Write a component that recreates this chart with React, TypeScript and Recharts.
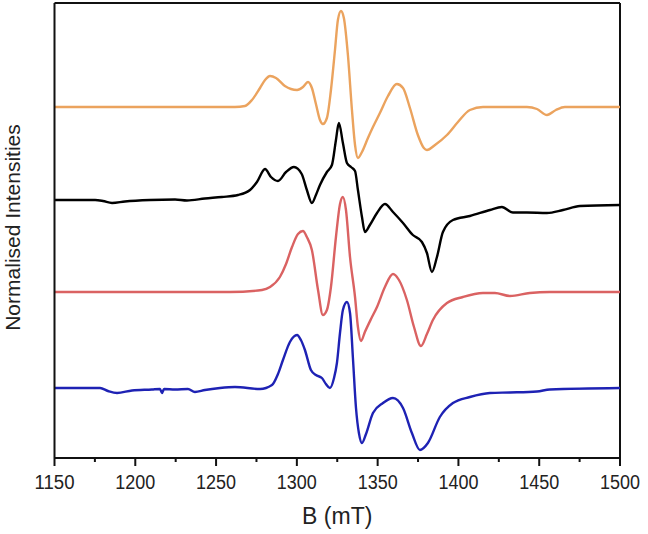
import React from "react";
import { LineChart, Line, XAxis, YAxis, ReferenceLine } from "recharts";

// Magnetic field (mT) and intensity (relative to each trace's own baseline)
const orangeB = [1150, 1261.7, 1267.9, 1272.2, 1277.2, 1280.3, 1283.4, 1287.1, 1292.6, 1300.1, 1303.8, 1306.9, 1309.3, 1311.8, 1314.3, 1316.1, 1318.6, 1321.1, 1323.6, 1325.4, 1327.3, 1329.1, 1331.6, 1334.1, 1336.0, 1337.8, 1340.3, 1344.0, 1347.1, 1351.4, 1356.4, 1361.9, 1365.7, 1370.0, 1374.9, 1378.6, 1380.5, 1385.5, 1392.9, 1399.7, 1407.1, 1415.2, 1442.4, 1448.6, 1454.8, 1460.3, 1465.9, 1500];
const orangeI = [0, 0, 1, 7, 19, 27, 31, 29, 21, 17, 20, 25, 19, 3, -13, -17, -11, 17, 57, 87, 96, 89, 52, -3, -38, -51, -45, -31, -20, -6, 11, 23, 19, -1, -28, -41, -43, -38, -28, -15, -3, 0, 0, -2, -8, -3, 0, 0];

const blackB = [1150, 1175.1, 1180, 1185.6, 1193.6, 1209.1, 1224.6, 1232.0, 1243.1, 1253.6, 1263.6, 1271.0, 1275.3, 1280.3, 1284.0, 1288.3, 1293.3, 1298.2, 1303.0, 1306.2, 1309.3, 1311.8, 1314.3, 1318.6, 1321.7, 1324.2, 1326.0, 1328.5, 1331.0, 1333.5, 1336.0, 1337.8, 1340.3, 1342.1, 1345.2, 1349.6, 1354.5, 1359.5, 1365.7, 1371.8, 1377.4, 1380.5, 1383.6, 1386.7, 1390.4, 1396.6, 1407.1, 1419.5, 1426.9, 1433.7, 1442.4, 1454.8, 1464.7, 1475.2, 1500];
const blackI = [0, 0, -1, -3, -1.5, 0, 0.5, -0.5, 1.5, 3, 5, 10, 18, 31, 23, 19, 28, 33, 26, 10, -3, 5, 15, 28, 35, 60, 77, 57, 37, 33, 29, 10, -17, -32, -25, -13, -4, -12, -23, -35, -42, -53, -72, -57, -32, -20, -16, -10, -7, -12.5, -12.5, -13, -10, -6, -5];

const redB = [1150, 1258.6, 1278.4, 1283.4, 1289.5, 1293.3, 1297.0, 1300.7, 1303.8, 1306.2, 1309.3, 1313.1, 1316.1, 1318.6, 1321.1, 1324.2, 1326.7, 1328.5, 1330.4, 1332.9, 1336.0, 1337.8, 1339.7, 1342.1, 1345.9, 1349.6, 1354.5, 1359.5, 1363.2, 1368.1, 1372.5, 1376.8, 1380.5, 1384.2, 1392.9, 1402.8, 1415.2, 1422.6, 1431.9, 1444.2, 1456.6, 1500];
const redI = [0, 0, 2, 5, 15, 28, 45, 58, 61, 55, 42, 2, -23, -18, 5, 55, 88, 95, 82, 35, -5, -35, -49, -40, -27, -15, 5, 18, 12, -8, -35, -54, -42, -28, -11, -5, -1, -1, -4, -1, 0, 0];

const blueB = [1150, 1178.2, 1183.1, 1188.7, 1198.0, 1210.3, 1215.3, 1216.5, 1217.8, 1224.6, 1232.6, 1236.9, 1243.1, 1252.4, 1261.7, 1277.2, 1284.6, 1288.3, 1291.4, 1295.7, 1300.1, 1302.5, 1305.0, 1308.7, 1311.8, 1315.5, 1318.0, 1320.5, 1323.0, 1324.8, 1326.7, 1328.5, 1331.0, 1332.9, 1334.7, 1336.6, 1338.4, 1340.3, 1342.8, 1347.1, 1353.3, 1359.5, 1365.7, 1371.2, 1376.2, 1381.1, 1388.5, 1396.6, 1407.1, 1419.5, 1431.9, 1448.6, 1456.6, 1500];
const blueI = [0, 0, -3, -5, -2.5, -1.5, -1, -5, -1, -1.5, -1, -4, -2, 0, 1, -1, 3, 14, 28, 46, 53, 48, 38, 18, 13, 10, 4, 0, 10, 25, 55, 78, 86, 75, 30, -20, -45, -55, -46, -25, -15, -10, -20, -45, -62, -55, -29, -15, -9, -5, -4.5, -3.5, -1.5, 0];

// Vertical offsets of the stacked traces
const offsets = [351, 258, 166, 70];
const colors = ["#EBA35E", "#000000", "#DA6262", "#1E22B4"];

const xTicks = [1150, 1175, 1200, 1225, 1250, 1275, 1300, 1325, 1350, 1375, 1400, 1425, 1450, 1475, 1500];
const xDomain = [1150, 1500];
const yDomain = [0, 455];

const build = (bs: number[], is: number[], off: number) =>
  bs.map((b, i) => ({ b, v: off + is[i] }));

const series = [
  build(orangeB, orangeI, offsets[0]),
  build(blackB, blackI, offsets[1]),
  build(redB, redI, offsets[2]),
  build(blueB, blueI, offsets[3]),
];

const XTick = (props: any) => {
  const { x, y, payload } = props;
  const major = payload.value % 50 === 0;
  return (
    <g>
      <line x1={x} x2={x} y1={y} y2={y + (major ? 8 : 4)} stroke="#111" strokeWidth={2} />
      {major && (
        <text
          x={x}
          y={y + 31}
          textAnchor="middle"
          fontSize={20}
          fontFamily="'Liberation Sans', Arial, sans-serif"
          fill="#222"
          textLength={40}
          lengthAdjust="spacingAndGlyphs"
        >
          {payload.value}
        </text>
      )}
    </g>
  );
};

const YLabel = (props: any) => {
  const vb = props.viewBox || { x: 0, y: 0, width: 0, height: 0 };
  const cx = 12.5;
  const cy = vb.y + vb.height / 2 - 3;
  return (
    <text
      x={cx}
      y={cy}
      transform={`rotate(-90 ${cx} ${cy})`}
      textAnchor="middle"
      dominantBaseline="central"
      fontSize={21}
      fontFamily="'Liberation Sans', Arial, sans-serif"
      fill="#222"
    >
      Normalised Intensities
    </text>
  );
};

export default function App() {
  return (
    <div style={{ position: "absolute", left: 0, top: 0 }}>
      <LineChart width={648} height={534} margin={{ top: 3, right: 28, bottom: 0, left: 0.5 }}>
        <XAxis
          type="number"
          dataKey="b"
          domain={xDomain}
          ticks={xTicks}
          interval={0}
          tickSize={0}
          tickMargin={0}
          tickLine={false}
          tick={<XTick />}
          axisLine={{ stroke: "#111", strokeWidth: 2 }}
          height={76}
          allowDataOverflow
          label={{
            value: "B (mT)",
            position: "insideBottom",
            offset: 10,
            fontSize: 23,
            fill: "#222",
            fontFamily: "'Liberation Sans', Arial, sans-serif",
          }}
        />
        <YAxis
          type="number"
          domain={yDomain}
          width={54}
          tick={false}
          tickLine={false}
          allowDataOverflow
          axisLine={{ stroke: "#111", strokeWidth: 2 }}
          label={<YLabel />}
        />
        <ReferenceLine y={yDomain[1]} stroke="#111" strokeWidth={2} ifOverflow="visible" />
        <ReferenceLine x={xDomain[1]} stroke="#111" strokeWidth={2} ifOverflow="visible" />
        {series.map((d, k) => (
          <Line
            key={k}
            data={d}
            dataKey="v"
            type="monotone"
            stroke={colors[k]}
            strokeWidth={2.4}
            dot={false}
            activeDot={false}
            isAnimationActive={false}
          />
        ))}
      </LineChart>
    </div>
  );
}
